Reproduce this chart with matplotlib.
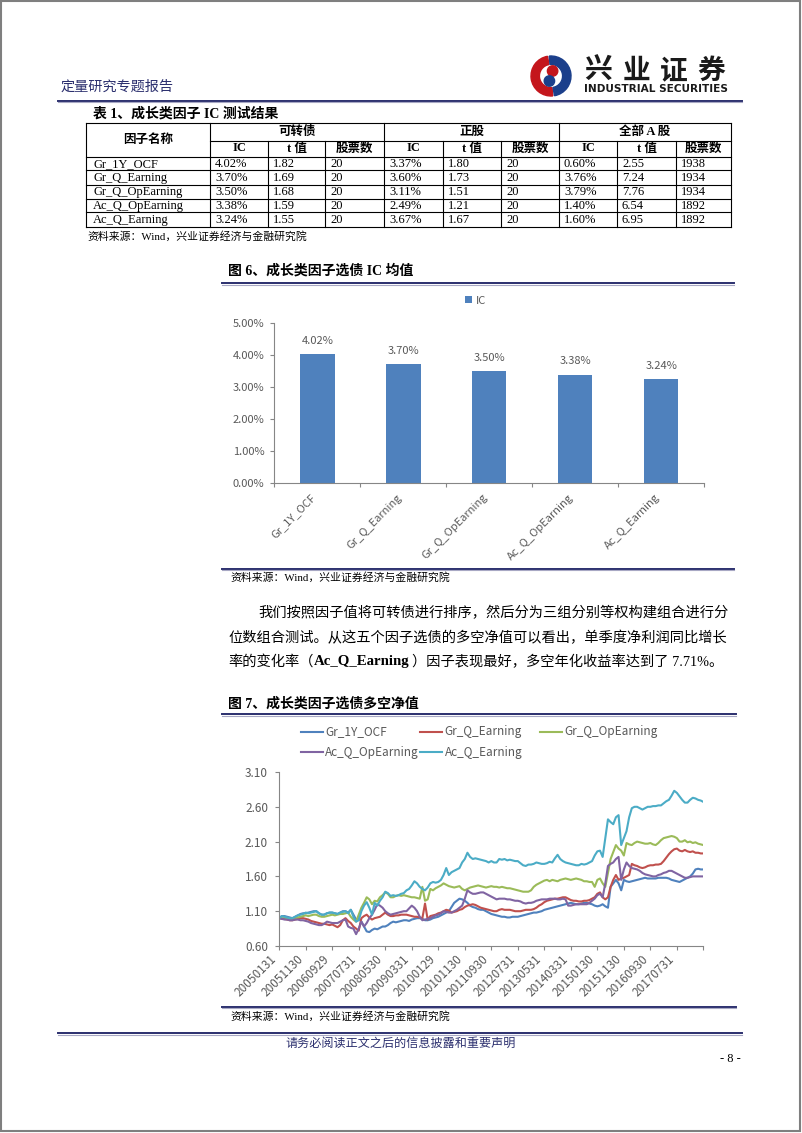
import matplotlib
matplotlib.use('Agg')
import matplotlib.pyplot as plt
from matplotlib.lines import Line2D
from matplotlib.patches import Rectangle, Wedge, Circle

W, H = 802, 1133

# ---- table 1 ----
factor_names = ['Gr_1Y_OCF', 'Gr_Q_Earning', 'Gr_Q_OpEarning', 'Ac_Q_OpEarning', 'Ac_Q_Earning']
group_names = ['可转债', '正股', '全部 A 股']
sub_names = ['IC', 't 值', '股票数']
cb_ic = ['4.02%', '3.70%', '3.50%', '3.38%', '3.24%']
cb_t = ['1.82', '1.69', '1.68', '1.59', '1.55']
cb_n = ['20', '20', '20', '20', '20']
stk_ic = ['3.37%', '3.60%', '3.11%', '2.49%', '3.67%']
stk_t = ['1.80', '1.73', '1.51', '1.21', '1.67']
stk_n = ['20', '20', '20', '20', '20']
all_ic = ['0.60%', '3.76%', '3.79%', '1.40%', '1.60%']
all_t = ['2.55', '7.24', '7.76', '6.54', '6.95']
all_n = ['1938', '1934', '1934', '1892', '1892']

# ---- figure 6: mean IC (%) ----
ic_mean = [4.02, 3.70, 3.50, 3.38, 3.24]

# ---- figure 7: long-short NAV, monthly 200501 - 201805 ----
nav_ticks = ['20050131', '20051130', '20060929', '20070731', '20080530', '20090331',
             '20100129', '20101130', '20110930', '20120731', '20130531', '20140331',
             '20150130', '20151130', '20160930', '20170731']

gr_1y_ocf = [
    1.00, 1.03, 1.03, 1.02, 1.01, 1.00, 1.02, 1.04, 1.06, 1.07,
    1.07, 1.08, 1.09, 1.10, 1.10, 1.07, 1.05, 1.05, 1.07, 1.08,
    1.08, 1.07, 1.06, 1.08, 1.10, 1.10, 1.08, 1.12, 1.05, 0.98,
    1.00, 0.95, 0.88, 0.81, 0.80, 0.83, 0.85, 0.84, 0.86, 0.88,
    0.88, 0.90, 0.93, 0.95, 0.94, 0.95, 0.96, 0.97, 0.97, 0.96,
    0.98, 0.99, 1.00, 1.00, 0.99, 0.97, 0.97, 0.98, 1.00, 1.01,
    1.02, 1.04, 1.06, 1.08, 1.10, 1.16, 1.22, 1.25, 1.28, 1.27,
    1.25, 1.22, 1.18, 1.16, 1.15, 1.13, 1.12, 1.12, 1.10, 1.08,
    1.06, 1.05, 1.04, 1.03, 1.02, 1.02, 1.01, 1.01, 1.02, 1.02,
    1.02, 1.03, 1.04, 1.05, 1.06, 1.07, 1.08, 1.08, 1.09, 1.10,
    1.12, 1.13, 1.14, 1.15, 1.16, 1.17, 1.18, 1.19, 1.20, 1.21,
    1.22, 1.21, 1.20, 1.20, 1.21, 1.22, 1.22, 1.21, 1.20, 1.18,
    1.17, 1.18, 1.20, 1.17, 1.15, 1.45, 1.50, 1.55, 1.50, 1.40,
    1.55, 1.53, 1.52, 1.53, 1.54, 1.55, 1.56, 1.57, 1.58, 1.57,
    1.57, 1.57, 1.57, 1.58, 1.58, 1.58, 1.58, 1.57, 1.55, 1.54,
    1.53, 1.52, 1.54, 1.56, 1.58, 1.60, 1.64, 1.70, 1.71, 1.70,
    1.70]

gr_q_earning = [
    1.00, 0.99, 0.99, 0.98, 0.97, 0.97, 0.98, 0.99, 1.00, 1.00,
    0.99, 0.98, 0.96, 0.95, 0.94, 0.93, 0.92, 0.92, 0.91, 0.90,
    0.91, 0.89, 0.87, 0.90, 0.97, 1.00, 0.96, 0.93, 0.88, 0.85,
    0.82, 1.00, 1.03, 1.05, 1.01, 0.98, 1.00, 1.01, 1.02, 1.05,
    1.08, 1.05, 1.03, 1.03, 1.04, 1.04, 1.05, 1.05, 1.05, 1.04,
    1.03, 1.02, 1.02, 1.01, 1.00, 1.21, 0.98, 1.03, 1.04, 1.05,
    1.07, 1.08, 1.10, 1.12, 1.11, 1.08, 1.09, 1.10, 1.12, 1.13,
    1.16, 1.18, 1.19, 1.20, 1.19, 1.17, 1.15, 1.14, 1.13, 1.12,
    1.11, 1.10, 1.10, 1.12, 1.13, 1.12, 1.12, 1.12, 1.11, 1.10,
    1.10, 1.10, 1.11, 1.12, 1.12, 1.12, 1.13, 1.15, 1.18, 1.20,
    1.23, 1.25, 1.26, 1.27, 1.28, 1.28, 1.29, 1.30, 1.30, 1.28,
    1.26, 1.25, 1.25, 1.24, 1.24, 1.25, 1.25, 1.26, 1.28, 1.30,
    1.35, 1.37, 1.30, 1.27, 1.30, 1.45, 1.55, 1.62, 1.55, 1.57,
    1.58, 1.60, 1.62, 1.78, 1.76, 1.75, 1.73, 1.72, 1.73, 1.75,
    1.76, 1.76, 1.77, 1.77, 1.78, 1.82, 1.87, 1.92, 1.96, 1.99,
    2.00, 1.97, 1.96, 1.98, 1.96, 1.95, 1.96, 1.94, 1.94, 1.93,
    1.93]

gr_q_opearning = [
    1.00, 1.02, 1.01, 1.00, 0.99, 0.99, 1.00, 1.01, 1.02, 1.03,
    1.04, 1.03, 1.04, 1.05, 1.05, 1.03, 1.02, 1.02, 1.03, 1.04,
    1.05, 1.04, 1.05, 1.06, 1.06, 1.07, 1.08, 1.02, 0.98, 0.95,
    1.05, 1.15, 1.22, 1.30, 1.27, 1.20, 1.25, 1.24, 1.30, 1.33,
    1.37, 1.35, 1.30, 1.30, 1.32, 1.33, 1.32, 1.33, 1.32, 1.31,
    1.30, 1.30, 1.29, 1.28, 1.45, 1.25, 1.27, 1.42, 1.40, 1.43,
    1.45, 1.47, 1.50, 1.48, 1.46, 1.45, 1.44, 1.45, 1.46, 1.42,
    1.40, 1.42, 1.44, 1.45, 1.46, 1.47, 1.46, 1.45, 1.44, 1.45,
    1.46, 1.45, 1.45, 1.44, 1.45, 1.44, 1.43, 1.43, 1.42, 1.41,
    1.40, 1.39, 1.38, 1.38, 1.38, 1.40, 1.45, 1.48, 1.50, 1.52,
    1.54, 1.55, 1.53, 1.55, 1.54, 1.53, 1.55, 1.56, 1.57, 1.56,
    1.55, 1.56, 1.57, 1.56, 1.55, 1.53, 1.53, 1.52, 1.52, 1.45,
    1.55, 1.57, 1.50, 1.45, 1.65, 1.85, 1.95, 2.05, 2.00, 1.97,
    1.90, 2.08, 2.06, 2.05, 2.08, 2.10, 2.09, 2.08, 2.07, 2.07,
    2.08, 2.06, 2.05, 2.08, 2.12, 2.15, 2.16, 2.17, 2.18, 2.17,
    2.15, 2.10, 2.10, 2.12, 2.09, 2.10, 2.08, 2.09, 2.07, 2.06,
    2.05]

ac_q_opearning = [
    1.00, 0.99, 0.98, 0.98, 0.97, 0.97, 0.98, 0.98, 0.97, 0.97,
    0.96, 0.95, 0.93, 0.92, 0.91, 0.90, 0.90, 0.92, 0.95, 0.94,
    0.93, 0.93, 0.93, 0.95, 0.97, 0.98, 0.88, 0.86, 0.85, 0.77,
    0.85, 0.95, 0.88, 0.93, 1.00, 1.05, 1.12, 1.20, 1.18, 1.15,
    1.10, 1.07, 1.05, 1.06, 1.07, 1.08, 1.09, 1.10, 1.10, 1.14,
    1.18, 1.15, 1.10, 1.02, 0.97, 0.98, 0.99, 1.00, 1.02, 1.04,
    1.05, 1.07, 1.10, 1.09, 1.08, 1.08, 1.10, 1.12, 1.15, 1.18,
    1.28, 1.40, 1.37, 1.35, 1.35, 1.36, 1.37, 1.37, 1.35, 1.33,
    1.31, 1.29, 1.27, 1.28, 1.28, 1.28, 1.27, 1.27, 1.26, 1.25,
    1.25, 1.24, 1.22, 1.21, 1.22, 1.22, 1.23, 1.25, 1.26, 1.27,
    1.27, 1.27, 1.28, 1.28, 1.28, 1.27, 1.27, 1.28, 1.27, 1.18,
    1.18, 1.19, 1.20, 1.20, 1.20, 1.20, 1.20, 1.22, 1.25, 1.28,
    1.33, 1.35, 1.30, 1.50, 1.75, 1.78, 1.80, 1.85, 1.88, 1.55,
    1.70, 1.80, 1.75, 1.72, 1.71, 1.70, 1.68, 1.65, 1.63, 1.62,
    1.61, 1.60, 1.60, 1.62, 1.63, 1.65, 1.66, 1.68, 1.68, 1.66,
    1.64, 1.62, 1.60, 1.58, 1.58, 1.59, 1.60, 1.60, 1.60, 1.60,
    1.60]

ac_q_earning = [
    1.00, 1.03, 1.02, 1.01, 1.00, 1.00, 1.02, 1.04, 1.05, 1.06,
    1.08, 1.07, 1.08, 1.09, 1.10, 1.07, 1.05, 1.05, 1.07, 1.08,
    1.08, 1.07, 1.06, 1.08, 1.09, 1.10, 1.07, 1.12, 1.02, 0.95,
    0.97, 1.10, 1.18, 1.23, 1.15, 1.05, 1.22, 1.18, 1.25, 1.30,
    1.38, 1.36, 1.32, 1.33, 1.32, 1.33, 1.35, 1.36, 1.40, 1.42,
    1.47, 1.53, 1.50, 1.45, 1.42, 1.40, 1.44, 1.50, 1.52, 1.51,
    1.52, 1.55, 1.62, 1.72, 1.62, 1.66, 1.68, 1.70, 1.72, 1.80,
    1.85, 1.94, 1.88, 1.85, 1.86, 1.85, 1.84, 1.83, 1.82, 1.80,
    1.82, 1.80, 1.80, 1.85, 1.84, 1.85, 1.83, 1.84, 1.83, 1.82,
    1.82, 1.79, 1.76, 1.75, 1.77, 1.77, 1.78, 1.80, 1.79, 1.78,
    1.78, 1.79, 1.81, 1.80, 1.86, 1.91, 1.85, 1.82, 1.80, 1.79,
    1.78, 1.77, 1.76, 1.76, 1.78, 1.77, 1.78, 1.80, 1.82, 1.90,
    1.96, 1.97, 1.88, 2.15, 2.42, 2.38, 2.35, 2.45, 2.48, 2.05,
    2.15, 2.25, 2.45, 2.58, 2.60, 2.60, 2.58, 2.56, 2.58, 2.60,
    2.60, 2.61, 2.61, 2.62, 2.62, 2.65, 2.68, 2.70, 2.76, 2.83,
    2.80, 2.75, 2.70, 2.66, 2.66, 2.70, 2.73, 2.72, 2.70, 2.69,
    2.67]

nav_series = [gr_1y_ocf, gr_q_earning, gr_q_opearning, ac_q_opearning, ac_q_earning]
nav_colors = ['#4F81BD', '#C0504D', '#9BBB59', '#8064A2', '#4BACC6']

para1 = '我们按照因子值将可转债进行排序，然后分为三组分别等权构建组合进行分'
para2 = '位数组合测试。从这五个因子选债的多空净值可以看出，单季度净利润同比增长'
para3 = ['率的变化率（', 'Ac_Q_Earning', '）因子表现最好，多空年化收益率达到了 7.71%。']
source = '资料来源：Wind，兴业证券经济与金融研究院'

CJK = ['Noto Sans CJK SC', 'DejaVu Sans']
SERIF = ['Liberation Serif', 'Noto Sans CJK SC']
GRAY = '#595959'
AXC = '#868686'
NAVY = '#2B2F6E'

fig = plt.figure(figsize=(W / 100, H / 100), dpi=100)


def fx(x):
    return x / W


def fy(y):
    return 1 - y / H


def put(x, y, s, **kw):
    kw.setdefault('va', 'center')
    return fig.text(fx(x), fy(y), s, **kw)


def hline(x0, x1, y, **kw):
    fig.add_artist(Line2D([fx(x0), fx(x1)], [fy(y), fy(y)], **kw))


def vline(x, y0, y1, **kw):
    fig.add_artist(Line2D([fx(x), fx(x)], [fy(y0), fy(y1)], **kw))


def rule(x0, x1, y):
    hline(x0, x1, y, color=NAVY, lw=1.4)
    hline(x0, x1, y + 1.5, color='#A8A8C4', lw=0.8)


# page frame
fig.add_artist(Rectangle((fx(1), fy(1131)), 799 / W, 1130 / H, fill=False,
                         ec='#7F7F7F', lw=1.5))

# ---- header ----
put(61, 87, '定量研究专题报告', color=NAVY, fontsize=10.2, family=CJK)
lax = fig.add_axes([fx(528), fy(98), 46 / W, 44 / H])
lax.set_xlim(-1.1, 1.1)
lax.set_ylim(-1.1, 1.1)
lax.set_aspect('equal')
lax.axis('off')
lax.add_patch(Wedge((0, 0), 1.0, 100, 275, width=0.42, color='#C4161C'))
lax.add_patch(Wedge((0, 0), 1.0, -80, 95, width=0.42, color='#1B3F8B'))
lax.add_patch(Circle((0.08, 0.25), 0.26, color='#C4161C'))
lax.add_patch(Circle((-0.08, -0.25), 0.26, color='#1B3F8B'))
for k, ch in enumerate('兴业证券'):
    put(598.5 + 37.7 * k, 71, ch, ha='center', fontsize=20, weight='heavy',
        family=CJK, color='#1A1A1A')
put(656, 88.5, 'INDUSTRIAL SECURITIES', ha='center', fontsize=7.6, weight='bold',
    family=['DejaVu Sans'], color='#1A1A1A')
rule(58, 742, 100.5)

# ---- table 1 ----
put(93, 113.5, '表 1、成长类因子 IC 测试结果', fontsize=10, weight='bold', family=SERIF)
col_x = [86, 210, 268, 325, 384, 443, 501, 559, 617, 676, 731]
row_y = [122.5, 140.5, 156.5, 170.5, 184.5, 198.5, 212.5, 226.5]
lk = dict(color='black', lw=0.8)
hline(col_x[0], col_x[-1], row_y[0], **lk)
hline(col_x[1], col_x[-1], row_y[1], **lk)
for y in row_y[2:]:
    hline(col_x[0], col_x[-1], y, **lk)
for k, x in enumerate(col_x):
    if k in (0, 1, 4, 7, 10):
        vline(x, row_y[0], row_y[-1], **lk)
    else:
        vline(x, row_y[1], row_y[-1], **lk)

put((col_x[0] + col_x[1]) / 2, (row_y[0] + row_y[2]) / 2, '因子名称', ha='center',
    fontsize=9, weight='bold', family=SERIF)
for g, name in enumerate(group_names):
    put((col_x[1 + 3 * g] + col_x[4 + 3 * g]) / 2, (row_y[0] + row_y[1]) / 2, name,
        ha='center', fontsize=9, weight='bold', family=SERIF)
    for s, sub in enumerate(sub_names):
        c = 1 + 3 * g + s
        put((col_x[c] + col_x[c + 1]) / 2, (row_y[1] + row_y[2]) / 2, sub,
            ha='center', fontsize=9, weight='bold', family=SERIF)

table_cols = [factor_names, cb_ic, cb_t, cb_n, stk_ic, stk_t, stk_n, all_ic, all_t, all_n]
for c, column in enumerate(table_cols):
    for r, val in enumerate(column):
        put(col_x[c] + (7 if c == 0 else 5), (row_y[r + 2] + row_y[r + 3]) / 2 + 0.5, val,
            fontsize=9, family=SERIF)
put(87, 236.5, source, fontsize=7.8, family=SERIF)

# ---- figure 6 ----
put(228, 271, '图 6、成长类因子选债 IC 均值', fontsize=10, weight='bold', family=SERIF)
rule(222, 734, 283)

ax1 = fig.add_axes([fx(274.3), fy(482.7), (704.3 - 274.3) / W, (482.7 - 322.7) / H])
pos = list(range(len(factor_names)))
ax1.bar(pos, ic_mean, width=0.4, color='#4F81BD', label='IC')
for p, v in zip(pos, ic_mean):
    ax1.text(p, v + 0.41, f'{v:.2f}%', ha='center', va='center', fontsize=8,
             color=GRAY, family=CJK)
ax1.set_xlim(-0.5, len(pos) - 0.5)
ax1.set_ylim(0, 5)
ax1.set_yticks(range(6))
ax1.set_yticklabels([f'{v:.2f}%' for v in range(6)])
ax1.set_xticks(pos)
ax1.set_xticklabels(factor_names, rotation=45, ha='right', va='top')
ax1.set_xticks([p - 0.5 for p in range(len(pos) + 1)], minor=True)
ax1.tick_params(axis='x', which='major', length=0, pad=7)
ax1.tick_params(axis='x', which='minor', length=3, color=AXC, width=0.8)
ax1.tick_params(axis='y', length=3, color=AXC, width=0.8, pad=4)
for lab in ax1.get_xticklabels() + ax1.get_yticklabels():
    lab.set_family(CJK)
    lab.set_fontsize(8)
    lab.set_color(GRAY)
for side in ('top', 'right'):
    ax1.spines[side].set_visible(False)
for side in ('left', 'bottom'):
    ax1.spines[side].set_color(AXC)
    ax1.spines[side].set_linewidth(0.8)
ax1.legend(loc='center', bbox_to_anchor=(0.468, 1.1375), frameon=False,
           handlelength=0.55, handleheight=0.55, handletextpad=0.35,
           prop={'family': CJK, 'size': 8}, labelcolor=GRAY)

rule(222, 734, 568.5)
put(230, 577.5, source, fontsize=7.8, family=SERIF)

# ---- paragraph ----
PS = 10.25
put(258, 613, para1, fontsize=PS, family=SERIF)
put(228, 638.5, para2, fontsize=PS, family=SERIF)
renderer = fig.canvas.get_renderer()
x = 228
for k, piece in enumerate(para3):
    t = put(x, 662, piece, fontsize=PS + (0.5 if k == 1 else 0), family=SERIF,
            weight='bold' if k == 1 else 'normal')
    x = t.get_window_extent(renderer).x1 + (3 if k == 1 else 0)

# ---- figure 7 ----
put(228, 703.5, '图 7、成长类因子选债多空净值', fontsize=10, weight='bold', family=SERIF)
rule(222, 736, 714)

ax2 = fig.add_axes([fx(279.2), fy(946), (703.4 - 279.2) / W, (946 - 772) / H])
months = list(range(len(gr_1y_ocf)))
for name, ser, col in zip(factor_names, nav_series, nav_colors):
    ax2.plot(months, ser, color=col, lw=1.5, label=name)
ax2.set_xlim(0, months[-1])
ax2.set_ylim(0.6, 3.1)
yt = [0.6 + 0.5 * k for k in range(6)]
ax2.set_yticks(yt)
ax2.set_yticklabels([f'{v:.2f}' for v in yt])
xt = list(range(0, months[-1] + 1, 10))
ax2.set_xticks(xt)
ax2.set_xticklabels(nav_ticks + [''] * (len(xt) - len(nav_ticks)), rotation=45,
                    ha='right', va='top')
ax2.tick_params(axis='x', length=3, color=AXC, width=0.8, pad=2)
ax2.tick_params(axis='y', length=3, color=AXC, width=0.8, pad=5)
for lab in ax2.get_xticklabels() + ax2.get_yticklabels():
    lab.set_family(CJK)
    lab.set_fontsize(8.5)
    lab.set_color(GRAY)
for side in ('top', 'right'):
    ax2.spines[side].set_visible(False)
for side in ('left', 'bottom'):
    ax2.spines[side].set_color(AXC)
    ax2.spines[side].set_linewidth(0.8)

# legend laid out as in the original (3 + 2, equal columns)
leg_x = [300.5, 420, 540, 300.5, 420]
leg_y = [731.5, 731.5, 731.5, 752.3, 752.3]
for k, line in enumerate(ax2.get_lines()):
    hline(leg_x[k], leg_x[k] + 22, leg_y[k], color=line.get_color(), lw=1.5)
    put(leg_x[k] + 24.5, leg_y[k], line.get_label(), fontsize=8.5, family=CJK, color=GRAY)

rule(222, 736, 1006.5)
put(230, 1016.5, source, fontsize=7.8, family=SERIF)

# ---- footer ----
rule(58, 742, 1033)
put(285, 1043.5, '请务必阅读正文之后的信息披露和重要声明', fontsize=8.7, family=CJK, color=NAVY)
put(741, 1058.5, '- 8 -', ha='right', fontsize=9, family=['Liberation Serif'])

fig.savefig('out.png', dpi=100)
